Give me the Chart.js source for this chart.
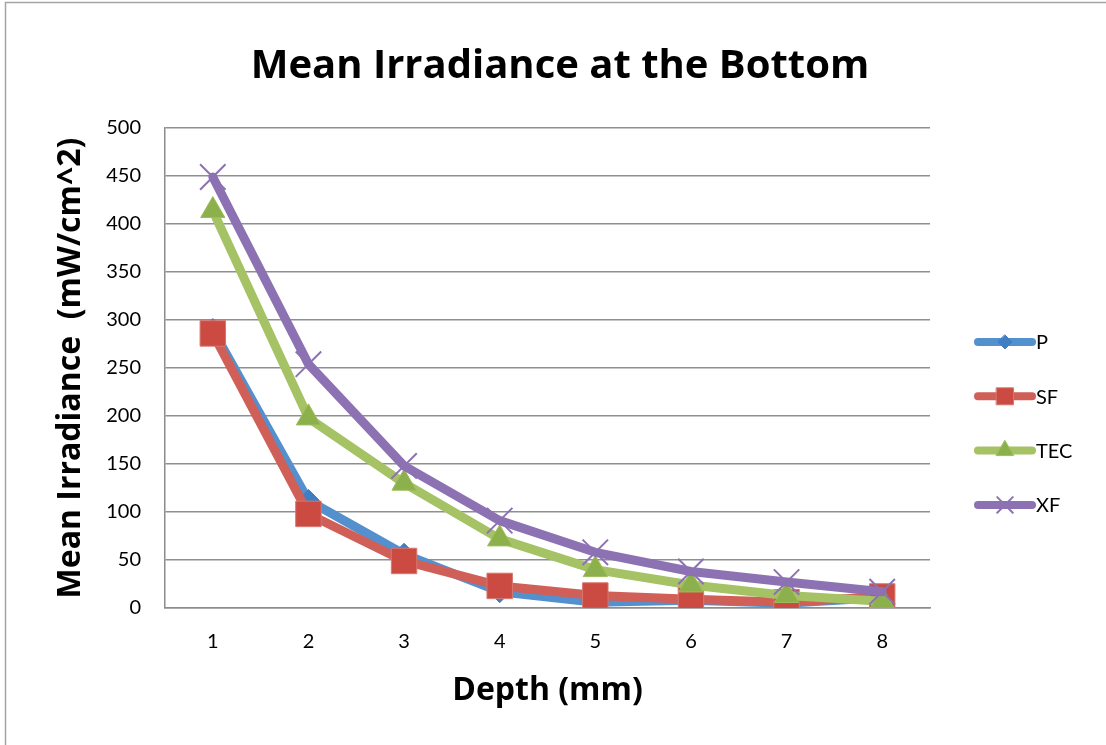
<!DOCTYPE html>
<html>
<head>
<meta charset="utf-8">
<script src="https://cdn.jsdelivr.net/npm/chart.js@4.4.0/dist/chart.umd.min.js"></script>
<style>
html, body { margin: 0; padding: 0; background: #ffffff; }
#wrap { position: relative; width: 1106px; height: 745px; }
canvas { display: block; }
</style>
</head>
<body>
<div id="wrap"><canvas id="c" width="1106" height="745"></canvas></div>
<script>
// ---- data ----
const categories = ['1', '2', '3', '4', '5', '6', '7', '8'];
const seriesNames = ['P', 'SF', 'TEC', 'XF'];
const valuesP   = [290, 112, 56, 17, 6, 8, 5, 11];
const valuesSF  = [286, 98, 49, 23, 13, 9, 6, 12];
const valuesTEC = [414, 198, 130, 72, 40, 24, 13, 7];
const valuesXF  = [449, 254, 148, 91, 58, 38, 27, 17];
const yMin = 0;
const yMax = 500;
const yStep = 50;
const chartTitle = 'Mean Irradiance at the Bottom';
const xTitle = 'Depth (mm)';
const yTitle = 'Mean Irradiance  (mW/cm^2)';

// ---- styles ----
const styles = [
  { line: '#5590CE', fill: '#3F7EC3', stroke: '#3F7EC3', point: 'rectRot', r: 11, bw: 1, lr: 7 },
  { line: '#CF5F57', fill: '#CB4A41', stroke: '#D7776F', point: 'rect', r: 18, bw: 1, lr: 12 },
  { line: '#A5C264', fill: '#8CB04B', stroke: '#9DBD5C', point: 'triangle', r: 14, bw: 1, lr: 10 },
  { line: '#8C72B3', fill: '#8C72B3', stroke: '#8C72B3', point: 'crossRot', r: 18, bw: 2, lr: 11 }
];
const seriesValues = [valuesP, valuesSF, valuesTEC, valuesXF];
const FONT = 'Lato, "Open Sans", "DejaVu Sans", sans-serif';
const TFONT = '"Open Sans", Lato, "DejaVu Sans", sans-serif';

const datasets = seriesNames.map((name, i) => ({
  label: name,
  data: seriesValues[i],
  yAxisID: 'y',
  xAxisID: 'x',
  borderColor: styles[i].line,
  backgroundColor: styles[i].line,
  borderWidth: 9,
  borderJoinStyle: 'round',
  borderCapStyle: 'round',
  tension: 0,
  pointStyle: styles[i].point,
  pointRadius: styles[i].r,
  pointHoverRadius: styles[i].r,
  pointBackgroundColor: styles[i].fill,
  pointBorderColor: styles[i].stroke,
  pointBorderWidth: styles[i].bw,
  order: seriesNames.length - i
}));

function drawMarker(ctx, style, r, x, y, fill, stroke, bw) {
  ctx.save();
  ctx.fillStyle = fill;
  ctx.strokeStyle = stroke;
  ctx.lineWidth = bw;
  ctx.beginPath();
  if (style === 'rect') {
    const s = r * Math.SQRT1_2;
    ctx.rect(x - s, y - s, 2 * s, 2 * s);
    ctx.fill(); ctx.stroke();
  } else if (style === 'rectRot') {
    ctx.moveTo(x, y - r); ctx.lineTo(x + r, y); ctx.lineTo(x, y + r); ctx.lineTo(x - r, y); ctx.closePath();
    ctx.fill(); ctx.stroke();
  } else if (style === 'triangle') {
    ctx.moveTo(x, y - r);
    ctx.lineTo(x + r * 0.866, y + r * 0.5);
    ctx.lineTo(x - r * 0.866, y + r * 0.5);
    ctx.closePath();
    ctx.fill(); ctx.stroke();
  } else if (style === 'crossRot') {
    const s = r * Math.SQRT1_2;
    ctx.moveTo(x - s, y - s); ctx.lineTo(x + s, y + s);
    ctx.moveTo(x + s, y - s); ctx.lineTo(x - s, y + s);
    ctx.stroke();
  }
  ctx.restore();
}

const chromePlugin = {
  id: 'chrome',
  beforeDraw(chart) {
    const ctx = chart.ctx;
    ctx.save();
    ctx.fillStyle = '#ffffff';
    ctx.fillRect(0, 0, chart.width, chart.height);
    ctx.strokeStyle = '#a3a3a3';
    ctx.lineWidth = 1.5;
    ctx.beginPath();
    ctx.moveTo(5.5, chart.height);
    ctx.lineTo(5.5, 2.5);
    ctx.lineTo(chart.width, 2.5);
    ctx.stroke();
    ctx.restore();
  },
  afterDraw(chart) {
    const ctx = chart.ctx;
    ctx.save();
    const x0 = 978, x1 = 1032, tx = 1036;
    const yStart = 342, dy = 54.3;
    seriesNames.forEach((name, i) => {
      const y = yStart + i * dy;
      const st = styles[i];
      ctx.strokeStyle = st.line;
      ctx.lineWidth = 8;
      ctx.lineCap = 'round';
      ctx.beginPath();
      ctx.moveTo(x0, y);
      ctx.lineTo(x1, y);
      ctx.stroke();
      drawMarker(ctx, st.point, st.lr, (x0 + x1) / 2, y, st.fill, st.stroke, st.bw);
      ctx.fillStyle = '#000000';
      ctx.font = '20px ' + FONT;
      ctx.textAlign = 'left';
      ctx.textBaseline = 'middle';
      ctx.fillText(name, tx, y + 1);
    });
    ctx.restore();
  }
};

new Chart(document.getElementById('c'), {
  type: 'line',
  data: { labels: categories, datasets: datasets },
  options: {
    responsive: false,
    animation: false,
    devicePixelRatio: 1,
    layout: { padding: { top: 0, right: 0, bottom: 0, left: 14 } },
    plugins: {
      legend: { display: false },
      tooltip: { enabled: false },
      title: {
        display: true,
        text: chartTitle,
        color: '#000000',
        font: { family: TFONT, size: 40, weight: 'bold' },
        padding: { top: 43, bottom: 37 }
      }
    },
    scales: {
      x: {
        type: 'category',
        offset: true,
        grid: { display: true, drawOnChartArea: false, drawTicks: false },
        border: { display: true, color: '#8c8c8c', width: 1.5 },
        ticks: { color: '#000000', font: { family: FONT, size: 20 }, padding: 22, maxRotation: 0 },
        title: {
          display: true, text: xTitle, color: '#000000',
          font: { family: TFONT, size: 32, weight: 'bold' },
          padding: { top: 0, bottom: 35 }
        },
        afterFit: (s) => { s.height = 137; }
      },
      y: {
        position: 'left',
        min: yMin,
        max: yMax,
        grid: { color: '#8f8f8f', lineWidth: 1.5, drawTicks: false },
        border: { display: true, color: '#8c8c8c', width: 1.5 },
        ticks: { stepSize: yStep, color: '#000000', font: { family: FONT, size: 20 }, padding: 24 },
        title: {
          display: true, text: yTitle, color: '#000000',
          font: { family: TFONT, size: 32, weight: 'bold' },
          padding: { top: 38, bottom: 0 }
        },
        afterFit: (s) => { s.width = 151; }
      },
      yLegendSpace: {
        type: 'linear',
        position: 'right',
        display: true,
        grid: { display: false, drawOnChartArea: false, drawTicks: false },
        border: { display: false },
        ticks: { display: false },
        afterFit: (s) => { s.width = 176; }
      }
    }
  },
  plugins: [chromePlugin]
});
</script>
</body>
</html>
